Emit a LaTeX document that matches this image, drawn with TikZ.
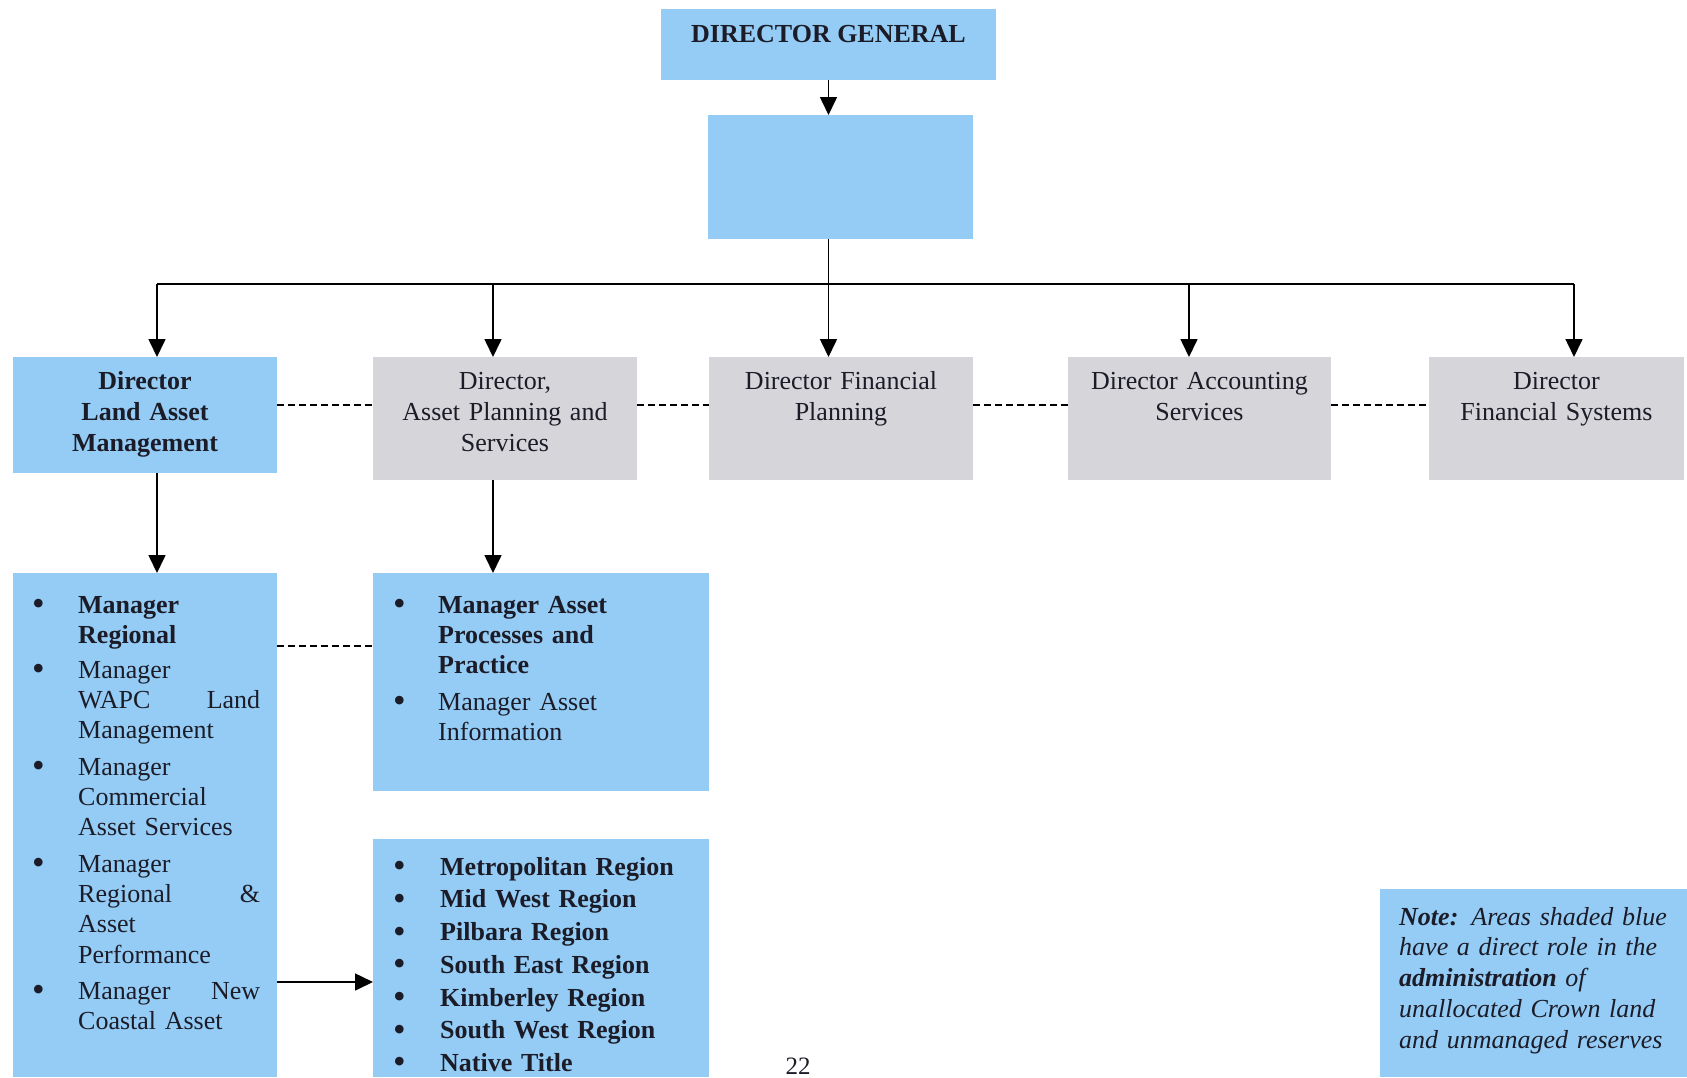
\documentclass[tikz,border=0pt]{standalone}
\usepackage{fontspec}
\setmainfont{Liberation Serif}
\usetikzlibrary{arrows.meta}
\definecolor{boxblue}{RGB}{148,204,245}
\definecolor{boxgrey}{RGB}{214,214,218}
\definecolor{ink}{RGB}{28,28,40}
\newcommand\bigbul{\smash{\fontsize{36}{30}\selectfont\raisebox{-2.5pt}{\textbullet}}}
\newcommand\bitem[3]{\noindent\makebox[#1][l]{\hspace{-2pt}\bigbul}\parbox[t]{#2}{\raggedright\strut #3\strut}\par}
\tikzset{
  bbox/.style={fill=boxblue, draw=none, inner sep=0pt, outer sep=0pt, anchor=north west},
  gbox/.style={fill=boxgrey, draw=none, inner sep=0pt, outer sep=0pt, anchor=north west},
  arr/.style={draw=black, line width=1.6pt, -{Triangle[width=17pt,length=18pt]}},
  conn/.style={draw=black, line width=1.6pt},
  dsh/.style={draw=black, line width=1.4pt, dash pattern=on 7pt off 4pt},
  rowtext/.style={inner sep=0pt, anchor=north, align=center, text=ink, font=\fontsize{26}{31}\selectfont},
  listtext/.style={inner sep=0pt, anchor=north west, align=left, text=ink, font=\fontsize{26}{30.3}\selectfont},
}
\begin{document}
\begin{tikzpicture}[x=1pt,y=-1pt]
\useasboundingbox (0,0) rectangle (1687,1077);
% boxes
\node[bbox, minimum width=335pt, minimum height=71pt] (dg) at (661,9) {};
\node[bbox, minimum width=265pt, minimum height=124pt] (blank) at (708,115) {};
\node[bbox, minimum width=264pt, minimum height=116pt] (lam) at (13,357) {};
\node[gbox, minimum width=264pt, minimum height=123pt] (aps) at (373,357) {};
\node[gbox, minimum width=264pt, minimum height=123pt] (dfp) at (709,357) {};
\node[gbox, minimum width=263pt, minimum height=123pt] (das) at (1068,357) {};
\node[gbox, minimum width=255pt, minimum height=123pt] (dfs) at (1429,357) {};
\node[bbox, minimum width=264pt, minimum height=504pt] (llist) at (13,573) {};
\node[bbox, minimum width=336pt, minimum height=218pt] (mgr) at (373,573) {};
\node[bbox, minimum width=336pt, minimum height=238pt] (reg) at (373,839) {};
\node[bbox, minimum width=307pt, minimum height=188pt] (note) at (1380,889) {};
% texts
\node[inner sep=0pt, anchor=base, text=ink, font=\fontsize{26}{31}\selectfont\bfseries] (tdg) at (828.5,42) {DIRECTOR GENERAL};
\node[rowtext, text width=264pt, font=\fontsize{26}{31}\selectfont\bfseries] (tlam) at (145,367.3) {\strut Director\\Land Asset\\Management};
\node[rowtext, text width=264pt] (taps) at (505,367.3) {\strut Director,\\Asset Planning and\\Services};
\node[rowtext, text width=264pt] (tdfp) at (841,367.3) {\strut Director Financial\\Planning};
\node[rowtext, text width=263pt] (tdas) at (1199.5,367.3) {\strut Director Accounting\\Services};
\node[rowtext, text width=255pt] (tdfs) at (1556.5,367.3) {\strut Director\\Financial Systems};
\node[listtext, text width=226pt] (tll) at (34,591.8) {%
\bitem{44pt}{182pt}{\textbf{Manager\\Regional}}\vspace{3.5pt}
\bitem{44pt}{182pt}{Manager\\WAPC\hfill Land\\Management}\vspace{5pt}
\bitem{44pt}{182pt}{Manager\\Commercial\\Asset Services}\vspace{5pt}
\bitem{44pt}{182pt}{Manager\\Regional\hfill \&\\Asset\\Performance}\vspace{5pt}
\bitem{44pt}{182pt}{Manager\hfill New\\Coastal Asset}};
\node[listtext, text width=300pt] (tmgr) at (395,591.8) {%
\bitem{43pt}{255pt}{\textbf{Manager Asset\\Processes and\\Practice}}\vspace{5pt}
\bitem{43pt}{255pt}{Manager Asset\\Information}};
\node[listtext, text width=300pt] (treg) at (395,853.8) {%
\bitem{45pt}{255pt}{\textbf{Metropolitan Region}}\vspace{2.4pt}
\bitem{45pt}{255pt}{\textbf{Mid West Region}}\vspace{2.4pt}
\bitem{45pt}{255pt}{\textbf{Pilbara Region}}\vspace{2.4pt}
\bitem{45pt}{255pt}{\textbf{South East Region}}\vspace{2.4pt}
\bitem{45pt}{255pt}{\textbf{Kimberley Region}}\vspace{2.4pt}
\bitem{45pt}{255pt}{\textbf{South West Region}}\vspace{2.4pt}
\bitem{45pt}{255pt}{\textbf{Native Title}}};
\node[inner sep=0pt, anchor=north west, align=left, text=ink, text width=285pt, font=\fontsize{26}{30.8}\selectfont\itshape] (tnote) at (1399,903.4) {\strut\textbf{Note:} Areas shaded blue\\have a direct role in the\\\textbf{administration} of\\unallocated Crown land\\and unmanaged reserves};
\node[inner sep=0pt, anchor=base, text=ink, font=\fontsize{25}{30}\selectfont] (pg) at (798,1074) {22};
% connectors
\coordinate (a1) at ([xshift=12pt]lam.north);
\coordinate (a2) at ([xshift=-12pt]aps.north);
\coordinate (a3) at (dg.south |- dfp.north);
\coordinate (a4) at ([xshift=-10.5pt]das.north);
\coordinate (a5) at ([xshift=17.5pt]dfs.north);
\draw[arr] (dg.south) -- (dg.south |- blank.north);
\draw[conn] (dg.south |- blank.south) -- ++(0,45) coordinate (bus);
\draw[conn] (a1 |- bus) -- (a5 |- bus);
\draw[arr] (a1 |- bus) -- (a1);
\draw[arr] (a2 |- bus) -- (a2);
\draw[arr] (bus) -- (a3);
\draw[arr] (a4 |- bus) -- (a4);
\draw[arr] (a5 |- bus) -- (a5);
\draw[arr] (a1 |- lam.south) -- (a1 |- llist.north);
\draw[arr] (a2 |- aps.south) -- (a2 |- mgr.north);
\coordinate (dy) at (0,405);
\draw[dsh] (lam.east |- dy) -- (aps.west |- dy);
\draw[dsh] (aps.east |- dy) -- (dfp.west |- dy);
\draw[dsh] (dfp.east |- dy) -- (das.west |- dy);
\draw[dsh] (das.east |- dy) -- (dfs.west |- dy);
\coordinate (dy2) at (0,646);
\draw[dsh] (llist.east |- dy2) -- (mgr.west |- dy2);
\coordinate (ay) at (0,982);
\draw[arr] (llist.east |- ay) -- (reg.west |- ay);
\end{tikzpicture}
\end{document}
